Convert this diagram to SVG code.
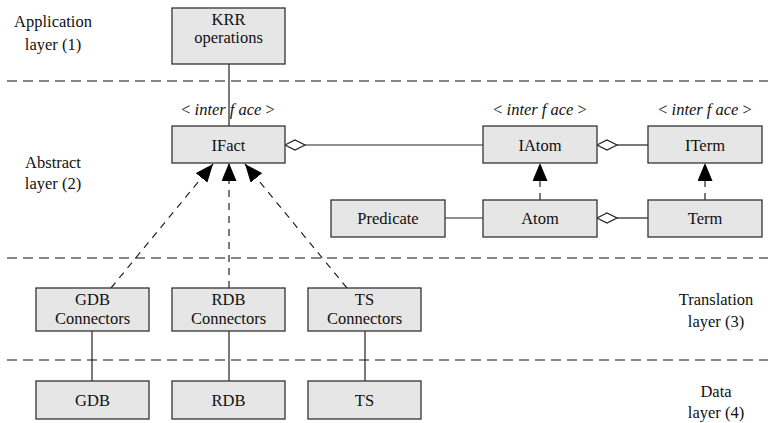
<svg xmlns="http://www.w3.org/2000/svg" width="768" height="423" viewBox="0 0 768 423">
<defs>
<style>
.box{fill:#e6e6e6;stroke:#333;stroke-width:1.3}
.t{font-size:16.5px;fill:#111;text-anchor:middle}
.it{font-style:italic}
.sep{stroke:#111;stroke-width:1.2;stroke-dasharray:10,6;fill:none}
.ln{stroke:#222;stroke-width:1.2;fill:none}
.dl{stroke:#222;stroke-width:1.2;fill:none;stroke-dasharray:7,6}
.dia{fill:#fff;stroke:#222;stroke-width:1.2}
</style>
<marker id="tri" markerWidth="18" markerHeight="15" refX="18" refY="7.5" orient="auto" markerUnits="userSpaceOnUse">
<path d="M0,0 L18,7.5 L0,15 Z" fill="#000" stroke="none"/>
</marker>
</defs>
<rect width="768" height="423" fill="#fff"/>
<g font-family="'Liberation Serif', 'Times New Roman', Tinos, 'DejaVu Serif', serif">
<g id="separators">
<line class="sep" x1="7" y1="81" x2="768" y2="81"/>
<line class="sep" x1="7" y1="258" x2="768" y2="258"/>
<line class="sep" x1="7" y1="360" x2="768" y2="360"/>
</g>

<g id="layer-labels">
<text class="t" x="53" y="27">Application</text>
<text class="t" x="53" y="50">layer (1)</text>
<text class="t" x="53" y="168">Abstract</text>
<text class="t" x="53" y="189">layer (2)</text>
<text class="t" x="716" y="305">Translation</text>
<text class="t" x="716" y="327">layer (3)</text>
<text class="t" x="716" y="397">Data</text>
<text class="t" x="716" y="418">layer (4)</text>
</g>

<g id="connectors">
<line class="ln" x1="229" y1="64" x2="229" y2="126"/>
<line class="ln" x1="305" y1="145" x2="483" y2="145"/>
<polygon class="dia" points="285,145 295,140 305,145 295,150"/>
<line class="ln" x1="617" y1="145" x2="648" y2="145"/>
<polygon class="dia" points="597,145 607,140 617,145 607,150"/>
<line class="ln" x1="445" y1="218" x2="483" y2="218"/>
<line class="ln" x1="617" y1="218" x2="648" y2="218"/>
<polygon class="dia" points="597,218 607,213 617,218 607,223"/>
<line class="dl" x1="540" y1="200" x2="540" y2="163" marker-end="url(#tri)"/>
<line class="dl" x1="705" y1="200" x2="705" y2="163" marker-end="url(#tri)"/>
<line class="dl" x1="111" y1="288" x2="213" y2="164" marker-end="url(#tri)"/>
<line class="dl" x1="229" y1="288" x2="229" y2="163" marker-end="url(#tri)"/>
<line class="dl" x1="347" y1="288" x2="245" y2="164" marker-end="url(#tri)"/>
<line class="ln" x1="92" y1="331" x2="92" y2="381"/>
<line class="ln" x1="229" y1="331" x2="229" y2="381"/>
<line class="ln" x1="365" y1="331" x2="365" y2="381"/>
</g>

<g id="krr">
<rect class="box" x="172" y="8" width="113" height="56"/>
<text class="t" x="228.5" y="25">KRR</text>
<text class="t" x="228.5" y="43">operations</text>
</g>
<g id="ifact">
<text class="t" x="228" y="115">&lt; <tspan class="it">inter f ace</tspan> &gt;</text>
<rect class="box" x="172" y="126" width="113" height="37"/>
<text class="t" x="228.5" y="151">IFact</text>
</g>
<g id="iatom">
<text class="t" x="540" y="115">&lt; <tspan class="it">inter f ace</tspan> &gt;</text>
<rect class="box" x="483" y="126" width="114" height="37"/>
<text class="t" x="540" y="151">IAtom</text>
</g>
<g id="iterm">
<text class="t" x="705" y="115">&lt; <tspan class="it">inter f ace</tspan> &gt;</text>
<rect class="box" x="648" y="126" width="114" height="37"/>
<text class="t" x="705" y="151">ITerm</text>
</g>
<g id="predicate">
<rect class="box" x="331" y="200" width="114" height="37"/>
<text class="t" x="388" y="224">Predicate</text>
</g>
<g id="atom">
<rect class="box" x="483" y="200" width="114" height="37"/>
<text class="t" x="540" y="224">Atom</text>
</g>
<g id="term">
<rect class="box" x="648" y="200" width="114" height="37"/>
<text class="t" x="705" y="224">Term</text>
</g>
<g id="gdb-connectors">
<rect class="box" x="36" y="288" width="113" height="43"/>
<text class="t" x="92.5" y="305">GDB</text>
<text class="t" x="92.5" y="324">Connectors</text>
</g>
<g id="rdb-connectors">
<rect class="box" x="172" y="288" width="113" height="43"/>
<text class="t" x="228.5" y="305">RDB</text>
<text class="t" x="228.5" y="324">Connectors</text>
</g>
<g id="ts-connectors">
<rect class="box" x="308" y="288" width="113" height="43"/>
<text class="t" x="364.5" y="305">TS</text>
<text class="t" x="364.5" y="324">Connectors</text>
</g>
<g id="gdb">
<rect class="box" x="36" y="381" width="113" height="38"/>
<text class="t" x="92.5" y="406">GDB</text>
</g>
<g id="rdb">
<rect class="box" x="172" y="381" width="113" height="38"/>
<text class="t" x="228.5" y="406">RDB</text>
</g>
<g id="ts">
<rect class="box" x="308" y="381" width="113" height="38"/>
<text class="t" x="364.5" y="406">TS</text>
</g>
</g>
</svg>
